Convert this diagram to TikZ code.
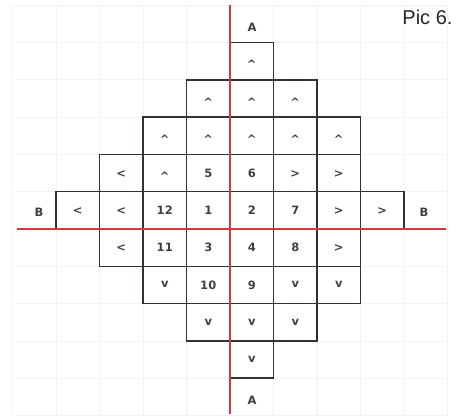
\documentclass[tikz,border=0pt]{standalone}
\usepackage{fontspec}
\newfontfamily\cellfont{DejaVu Sans}
\newfontfamily\picfont{Liberation Sans}
\definecolor{cellline}{HTML}{2E3433}
\definecolor{celltext}{HTML}{404040}
\definecolor{axisred}{HTML}{D8363E}
\definecolor{faint}{HTML}{F2F2F2}
\newcommand{\up}{\raisebox{-3.5pt}{\textasciicircum}}
\newcommand{\dn}{\raisebox{1.5pt}{v}}
\begin{document}
\begin{tikzpicture}[x=1pt,y=-1pt,
  cellbox/.style={draw=cellline,line width=1.5pt,minimum width=43.5pt,minimum height=37.3pt,inner sep=0pt,
    font=\cellfont\bfseries\fontsize{11.5}{13}\selectfont,text=celltext,text height=8.5pt,text depth=0pt},
  axislabel/.style={font=\cellfont\bfseries\fontsize{11.5}{13}\selectfont,text=celltext},
  axisline/.style={draw=axisred,line width=1.8pt},
  bggrid/.style={draw=faint,line width=0.8pt}]
\useasboundingbox (0,0) rectangle (464,416);
\fill[white] (0,0) rectangle (464,416);
% faint background grid
\foreach \k in {-5,...,5} \draw[bggrid] ({230+43.5*\k},5) -- ({230+43.5*\k},416);
\foreach \k in {-6,...,5} \draw[bggrid] (15,{229+37.3*\k}) -- (448,{229+37.3*\k});
\fill[white] (0,0) rectangle (464,4);
% cells: row index j, column index i
\foreach \j/\row in {-5/{0/\up},
  -4/{-1/\up,0/\up,1/\up},
  -3/{-2/\up,-1/\up,0/\up,1/\up,2/\up},
  -2/{-3/<,-2/\up,-1/5,0/6,1/>,2/>},
  -1/{-4/<,-3/<,-2/12,-1/1,0/2,1/7,2/>,3/>},
  0/{-3/<,-2/11,-1/3,0/4,1/8,2/>},
  1/{-2/\dn,-1/10,0/9,1/\dn,2/\dn},
  2/{-1/\dn,0/\dn,1/\dn},
  3/{0/\dn}} {
  \foreach \i/\t in \row {
    \node[cellbox] (c\j x\i) at ({230+43.5*(\i+0.5)},{229+37.3*(\j+0.5)}) {\t};
  }
}
% axes
\coordinate (vtop) at (230,5);
\coordinate (vbot) at (230,414);
\coordinate (hleft) at (17,229);
\coordinate (hright) at (446,229);
\draw[axisline] (vtop) -- (vbot);
\draw[axisline] (hleft) -- (hright);
% axis labels
\node[axislabel] (atop) at (252,27) {A};
\node[axislabel] (abot) at (252,400) {A};
\node[axislabel] (bleft) at (39,212) {B};
\node[axislabel] (bright) at (424,212) {B};
\node[font=\picfont\fontsize{20}{24}\selectfont,text=black!85,anchor=east] (pic) at (456,17) {Pic 6.};
\end{tikzpicture}
\end{document}
